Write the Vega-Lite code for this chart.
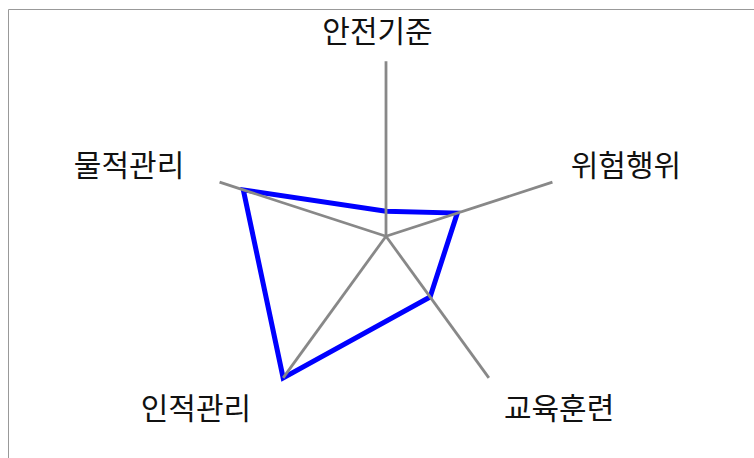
{
  "$schema": "https://vega.github.io/schema/vega-lite/v6.json",
  "autosize": {"type": "fit", "contains": "padding"},
  "width": 754,
  "height": 458,
  "padding": {"left": 8, "top": 9, "right": -10, "bottom": -10},
  "background": "white",
  "config": {"view": {"stroke": "#999999", "strokeWidth": 1}},
  "data": {
    "values": [
      {"axis": "안전기준", "value": 1, "idx": 0},
      {"axis": "위험행위", "value": 3, "idx": 1},
      {"axis": "교육훈련", "value": 3, "idx": 2},
      {"axis": "인적관리", "value": 7, "idx": 3},
      {"axis": "물적관리", "value": 6, "idx": 4}
    ]
  },
  "transform": [
    {"calculate": "datum.idx * 2 * PI / 5", "as": "theta"},
    {"calculate": "datum.value * sin(datum.theta)", "as": "px"},
    {"calculate": "datum.value * cos(datum.theta)", "as": "py"},
    {"calculate": "7 * sin(datum.theta)", "as": "ax"},
    {"calculate": "7 * cos(datum.theta)", "as": "ay"},
    {"calculate": "0", "as": "zero"},
    {"calculate": "abs(sin(datum.theta)) < 0.01 ? 0 : 7.36 * sin(datum.theta) + 0.73 * (sin(datum.theta) > 0 ? 1 : -1)", "as": "lx"},
    {"calculate": "7.75 * cos(datum.theta) + (cos(datum.theta) > 0 ? 0.45 : -0.6)", "as": "ly"}
  ],
  "layer": [
    {
      "mark": {"type": "line", "interpolate": "linear-closed", "color": "#0000ff", "strokeWidth": 5},
      "encoding": {
        "x": {"field": "px", "type": "quantitative", "scale": {"domain": [-15.12, 15.12], "nice": false, "zero": false}, "axis": null},
        "y": {"field": "py", "type": "quantitative", "scale": {"domain": [-9.27, 9.09], "nice": false, "zero": false}, "axis": null},
        "order": {"field": "idx", "type": "quantitative"}
      }
    },
    {
      "mark": {"type": "rule", "color": "#888888", "strokeWidth": 2.8},
      "encoding": {
        "x": {"field": "zero", "type": "quantitative"},
        "y": {"field": "zero", "type": "quantitative"},
        "x2": {"field": "ax"},
        "y2": {"field": "ay"}
      }
    },
    {
      "mark": {
        "type": "text",
        "font": "Noto Sans CJK KR",
        "fontSize": 30,
        "color": "#111111",
        "baseline": "middle",
        "dx": -8.5,
        "dy": 2,
        "align": {"expr": "datum.lx > 0.01 ? 'left' : (datum.lx < -0.01 ? 'right' : 'center')"}
      },
      "encoding": {
        "x": {"field": "lx", "type": "quantitative"},
        "y": {"field": "ly", "type": "quantitative"},
        "text": {"field": "axis", "type": "nominal"}
      }
    }
  ]
}
